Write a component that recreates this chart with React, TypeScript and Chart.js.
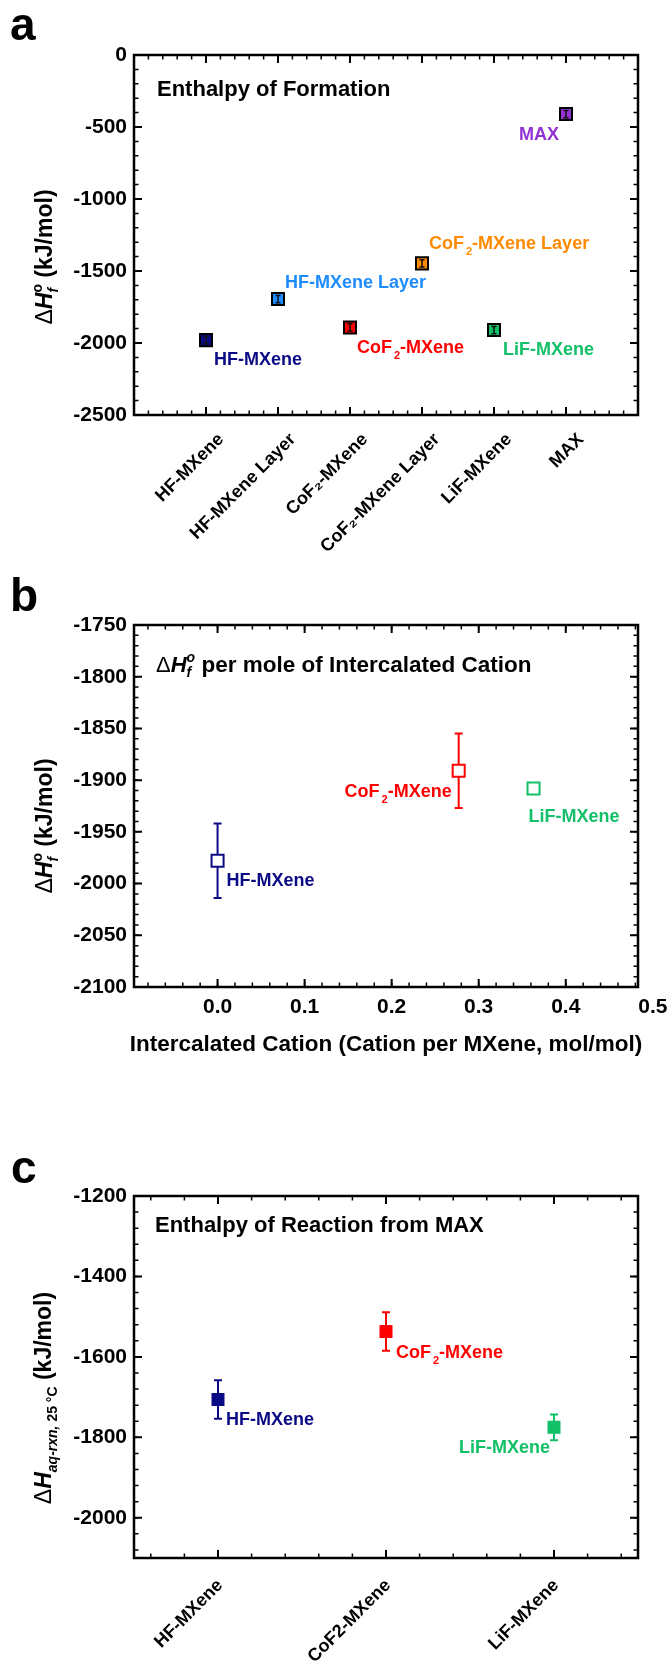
import React, { useEffect, useRef } from 'react';
import { Chart, registerables } from 'chart.js';

Chart.register(...registerables);

const FONT = "'Liberation Sans', Arial, Helvetica, sans-serif";
const PAGE_W = 671;
const PAGE_H = 1661;
const BOX_LEFT = 134;
const BOX_RIGHT = 638;

// ---------------- Panel a data ----------------
const A_CATEGORIES = ['HF-MXene', 'HF-MXene Layer', 'CoF₂-MXene', 'CoF₂-MXene Layer', 'LiF-MXene', 'MAX'];
const A_VALUES = [-1980, -1695, -1892, -1447, -1910, -410];
const A_ERRORS = [25, 25, 25, 25, 25, 25];
const A_Y_TICKS = [0, -500, -1000, -1500, -2000, -2500];

// ---------------- Panel b data ----------------
const B_NAMES = ['HF-MXene', 'CoF₂-MXene', 'LiF-MXene'];
const B_CATION = [0.0, 0.277, 0.363];
const B_VALUES = [-1978, -1891, -1908];
const B_ERRORS = [36, 36, 3];
const B_X_TICKS = [0.0, 0.1, 0.2, 0.3, 0.4, 0.5];
const B_Y_TICKS = [-1750, -1800, -1850, -1900, -1950, -2000, -2050, -2100];

// ---------------- Panel c data ----------------
const C_CATEGORIES = ['HF-MXene', 'CoF2-MXene', 'LiF-MXene'];
const C_NAMES = ['HF-MXene', 'CoF₂-MXene', 'LiF-MXene'];
const C_VALUES = [-1706, -1537, -1775];
const C_ERRORS = [48, 48, 32];
const C_Y_TICKS = [-1200, -1400, -1600, -1800, -2000];

// ---------------- styles ----------------
const NAVY = '#0A0A85';
const SKY = '#1E8CFF';
const RED = '#FF0000';
const ORANGE = '#FF8A00';
const GREEN = '#12C068';
const PURPLE = '#9232D2';
const A_COLORS = [NAVY, SKY, RED, ORANGE, GREEN, PURPLE];
const B_COLORS = [NAVY, RED, GREEN];
const C_COLORS = [NAVY, RED, GREEN];

const TICK_SIZE = 21;
const ANNOT_SIZE = 18;
const TITLE_SIZE = 22;
const YTITLE_SIZE = 23;
const LETTER_SIZE = 46;

type Align = 'left' | 'right' | 'center';
const A_LABEL_POS: [number, number, Align][] = [[8, 18, 'left'], [7, -18, 'left'], [7, 19, 'left'], [7, -21, 'left'], [9, 18, 'left'], [-7, 19, 'right']];
const B_LABEL_POS: [number, number, Align][] = [[9, 19, 'left'], [-7, 20, 'right'], [-5, 27, 'left']];
const C_LABEL_POS: [number, number, Align][] = [[8, 19, 'left'], [10, 20, 'left'], [-4, 19, 'right']];

type Seg = { t: string; font: string; dy?: number; dx?: number; hold?: boolean };

function drawRich(ctx: CanvasRenderingContext2D, segs: Seg[], x: number, y: number, align: Align, color: string) {
  const pos: number[] = [];
  let total = 0;
  let pending = 0;
  for (const s of segs) {
    ctx.font = s.font;
    const w = ctx.measureText(s.t).width + (s.dx || 0);
    pos.push(total + (s.dx || 0));
    if (s.hold) pending = Math.max(pending, w);
    else {
      total += Math.max(w, pending);
      pending = 0;
    }
  }
  const x0 = align === 'left' ? x : align === 'right' ? x - total : x - total / 2;
  ctx.fillStyle = color;
  ctx.textAlign = 'left';
  ctx.textBaseline = 'alphabetic';
  segs.forEach((s, i) => {
    ctx.font = s.font;
    ctx.fillText(s.t, x0 + pos[i], y + (s.dy || 0));
  });
}

function drawVertical(ctx: CanvasRenderingContext2D, segs: Seg[], cx: number, cy: number, size: number) {
  ctx.save();
  ctx.translate(cx, cy);
  ctx.rotate(-Math.PI / 2);
  drawRich(ctx, segs, 0, size * 0.36, 'center', '#000');
  ctx.restore();
}

function nameSegs(name: string, size: number): Seg[] {
  const i = name.indexOf('₂');
  const f = `bold ${size}px ${FONT}`;
  if (i < 0) return [{ t: name, font: f }];
  return [
    { t: name.slice(0, i), font: f },
    { t: '2', font: `bold ${Math.round(size * 0.6)}px ${FONT}`, dy: size * 0.32, dx: 2 },
    { t: name.slice(i + 1), font: f },
  ];
}

function steps(from: number, to: number, step: number): number[] {
  const out: number[] = [];
  const n = Math.round((to - from) / step);
  for (let k = 0; k <= n; k++) out.push(Math.round((from + k * step) * 1e6) / 1e6);
  return out;
}

function frameTicksPlugin(xMajor: number[], xMinor: number[], yMajor: number[], yMinor: number[]) {
  return {
    id: 'frameTicks',
    afterDatasetsDraw(chart: any) {
      const { ctx, chartArea: a } = chart;
      const xs = chart.scales.x;
      const ys = chart.scales.y;
      ctx.save();
      ctx.strokeStyle = '#000';
      const drawX = (vals: number[], len: number, lw: number) => {
        ctx.lineWidth = lw;
        ctx.beginPath();
        for (const v of vals) {
          if (v < xs.min - 1e-9 || v > xs.max + 1e-9) continue;
          const p = xs.getPixelForValue(v);
          ctx.moveTo(p, a.bottom);
          ctx.lineTo(p, a.bottom - len);
          ctx.moveTo(p, a.top);
          ctx.lineTo(p, a.top + len);
        }
        ctx.stroke();
      };
      const drawY = (vals: number[], len: number, lw: number) => {
        ctx.lineWidth = lw;
        ctx.beginPath();
        for (const v of vals) {
          if (v < ys.min - 1e-9 || v > ys.max + 1e-9) continue;
          const p = ys.getPixelForValue(v);
          ctx.moveTo(a.left, p);
          ctx.lineTo(a.left + len, p);
          ctx.moveTo(a.right, p);
          ctx.lineTo(a.right - len, p);
        }
        ctx.stroke();
      };
      drawX(xMinor, 4.5, 1.5);
      drawX(xMajor, 8, 2);
      drawY(yMinor, 4.5, 1.5);
      drawY(yMajor, 8, 2);
      ctx.lineWidth = 2.5;
      ctx.strokeRect(a.left, a.top, a.right - a.left, a.bottom - a.top);
      ctx.restore();
    },
  };
}

function errorBarPlugin(hook: string, xv: number[], yv: number[], errs: number[], colors: string[], lw: number, cap: number) {
  return {
    id: 'errorBars',
    [hook](chart: any) {
      const { ctx } = chart;
      const xs = chart.scales.x;
      const ys = chart.scales.y;
      ctx.save();
      ctx.lineWidth = lw;
      xv.forEach((x, i) => {
        const px = xs.getPixelForValue(x);
        const pTop = ys.getPixelForValue(yv[i] + errs[i]);
        const pBot = ys.getPixelForValue(yv[i] - errs[i]);
        ctx.strokeStyle = colors[i];
        ctx.beginPath();
        ctx.moveTo(px, pTop);
        ctx.lineTo(px, pBot);
        ctx.moveTo(px - cap / 2, pTop);
        ctx.lineTo(px + cap / 2, pTop);
        ctx.moveTo(px - cap / 2, pBot);
        ctx.lineTo(px + cap / 2, pBot);
        ctx.stroke();
      });
      ctx.restore();
    },
  };
}

function labelsPlugin(xv: number[], yv: number[], names: string[], colors: string[], posList: [number, number, Align][], size: number, extra: (ctx: CanvasRenderingContext2D) => void) {
  return {
    id: 'labelsAndTexts',
    afterDraw(chart: any) {
      const { ctx } = chart;
      const xs = chart.scales.x;
      const ys = chart.scales.y;
      ctx.save();
      xv.forEach((x, i) => {
        const px = xs.getPixelForValue(x);
        const py = ys.getPixelForValue(yv[i]);
        const [dx, dy, al] = posList[i];
        drawRich(ctx, nameSegs(names[i], size), px + dx, py + dy + size * 0.36, al, colors[i]);
      });
      extra(ctx);
      ctx.restore();
    },
  };
}

interface Base {
  boxTop: number;
  boxBottom: number;
  xMin: number;
  xMax: number;
  yMin: number;
  yMax: number;
  xTicks: number[];
  xLabel: (v: number) => string;
  xFont: number;
  xRot: number;
  xPad: number;
  xOffset: number;
  yTicks: number[];
  datasets: any[];
  plugins: any[];
}

function baseConfig(o: Base): any {
  return {
    type: 'scatter',
    data: { datasets: o.datasets },
    options: {
      animation: false,
      responsive: false,
      maintainAspectRatio: false,
      devicePixelRatio: 1,
      events: [],
      layout: { padding: { left: 0, right: PAGE_W - BOX_RIGHT, top: o.boxTop, bottom: 0 } },
      plugins: { legend: { display: false }, tooltip: { enabled: false } },
      scales: {
        x: {
          type: 'linear',
          position: 'bottom',
          min: o.xMin,
          max: o.xMax,
          grid: { display: false, drawTicks: false },
          border: { display: false },
          afterBuildTicks: (s: any) => {
            s.ticks = o.xTicks.map((v) => ({ value: v }));
          },
          afterFit: (s: any) => {
            s.height = PAGE_H - o.boxBottom;
            s.paddingLeft = 0;
            s.paddingRight = 0;
          },
          ticks: {
            autoSkip: false,
            minRotation: o.xRot,
            maxRotation: o.xRot,
            padding: o.xPad,
            labelOffset: o.xOffset,
            color: '#000',
            font: { family: FONT, size: o.xFont, weight: 'bold' },
            callback: (v: any) => o.xLabel(Number(v)),
          },
        },
        y: {
          type: 'linear',
          position: 'left',
          min: o.yMin,
          max: o.yMax,
          grid: { display: false, drawTicks: false },
          border: { display: false },
          afterBuildTicks: (s: any) => {
            s.ticks = o.yTicks.map((v) => ({ value: v }));
          },
          afterFit: (s: any) => {
            s.width = BOX_LEFT;
            s.paddingTop = 0;
            s.paddingBottom = 0;
          },
          ticks: {
            autoSkip: false,
            padding: 7,
            color: '#000',
            font: { family: FONT, size: TICK_SIZE, weight: 'bold' },
            callback: (v: any) => String(v),
          },
        },
      },
    },
    plugins: o.plugins,
  };
}

const big = (s: number) => `bold ${s}px ${FONT}`;

function yTitleF(size: number): Seg[] {
  const sub = Math.round(size * 0.62);
  return [
    { t: 'Δ', font: `${size}px ${FONT}` },
    { t: 'H', font: `italic bold ${size}px ${FONT}` },
    { t: 'f', font: `italic bold ${sub}px ${FONT}`, dy: size * 0.25, hold: true },
    { t: 'o', font: `bold ${sub}px ${FONT}`, dy: -size * 0.45 },
  ];
}

// ---------------- panel a ----------------
function configA(): any {
  const xv = A_VALUES.map((_, i) => i + 1);
  return baseConfig({
    boxTop: 55,
    boxBottom: 415,
    xMin: 0,
    xMax: 7,
    yMin: -2500,
    yMax: 0,
    xTicks: xv,
    xLabel: (v) => A_CATEGORIES[Math.round(v) - 1] || '',
    xFont: 18,
    xRot: 45,
    xPad: 14,
    xOffset: 15,
    yTicks: A_Y_TICKS,
    datasets: [
      {
        data: xv.map((x, i) => ({ x, y: A_VALUES[i] })),
        pointStyle: 'rect',
        pointRadius: 8.5,
        pointBorderWidth: 2,
        pointBorderColor: '#000',
        pointBackgroundColor: A_COLORS,
      },
    ],
    plugins: [
      errorBarPlugin('afterDatasetsDraw', xv, A_VALUES, A_ERRORS, A_COLORS.map(() => '#111'), 1.5, 5),
      frameTicksPlugin(xv, steps(0, 7, 0.2), A_Y_TICKS, steps(-2500, 0, 100)),
      labelsPlugin(xv, A_VALUES, A_CATEGORIES, A_COLORS, A_LABEL_POS, ANNOT_SIZE, (ctx) => {
        drawRich(ctx, [{ t: 'a', font: big(LETTER_SIZE) }], 10, 40, 'left', '#000');
        drawRich(ctx, [{ t: 'Enthalpy of Formation', font: big(TITLE_SIZE) }], 157, 96, 'left', '#000');
        drawVertical(ctx, [...yTitleF(YTITLE_SIZE), { t: ' (kJ/mol)', font: big(YTITLE_SIZE) }], 44, 257, YTITLE_SIZE);
      }),
    ],
  });
}

// ---------------- panel b ----------------
function configB(): any {
  return baseConfig({
    boxTop: 625,
    boxBottom: 987,
    xMin: -0.096,
    xMax: 0.483,
    yMin: -2100,
    yMax: -1750,
    xTicks: B_X_TICKS,
    xLabel: (v) => v.toFixed(1),
    xFont: TICK_SIZE,
    xRot: 0,
    xPad: 8,
    xOffset: 0,
    yTicks: B_Y_TICKS,
    datasets: [
      {
        data: B_CATION.map((x, i) => ({ x, y: B_VALUES[i] })),
        pointStyle: 'rect',
        pointRadius: 8.5,
        pointBorderWidth: 2,
        pointBorderColor: B_COLORS,
        pointBackgroundColor: '#FFFFFF',
      },
    ],
    plugins: [
      errorBarPlugin('beforeDatasetsDraw', B_CATION, B_VALUES, B_ERRORS, B_COLORS, 2, 8),
      frameTicksPlugin(B_X_TICKS, steps(-0.08, 0.48, 0.02), B_Y_TICKS, steps(-2100, -1750, 10)),
      labelsPlugin(B_CATION, B_VALUES, B_NAMES, B_COLORS, B_LABEL_POS, ANNOT_SIZE, (ctx) => {
        drawRich(ctx, [{ t: 'b', font: big(LETTER_SIZE) }], 10, 611, 'left', '#000');
        drawRich(
          ctx,
          [
            { t: 'Δ', font: `${TITLE_SIZE}px ${FONT}` },
            { t: 'H', font: `italic bold ${TITLE_SIZE}px ${FONT}` },
            { t: 'f', font: `italic bold 14px ${FONT}`, dy: 5, hold: true },
            { t: 'o', font: `italic bold 14px ${FONT}`, dy: -10 },
            { t: ' per mole of Intercalated Cation', font: big(22.5) },
          ],
          156,
          672,
          'left',
          '#000'
        );
        drawVertical(ctx, [...yTitleF(YTITLE_SIZE), { t: ' (kJ/mol)', font: big(YTITLE_SIZE) }], 44, 826, YTITLE_SIZE);
        drawRich(ctx, [{ t: 'Intercalated Cation (Cation per MXene, mol/mol)', font: big(22.5) }], 386, 1051, 'center', '#000');
      }),
    ],
  });
}

// ---------------- panel c ----------------
function configC(): any {
  const xv = C_VALUES.map((_, i) => i + 1);
  return baseConfig({
    boxTop: 1196,
    boxBottom: 1558,
    xMin: 0.5,
    xMax: 3.5,
    yMin: -2100,
    yMax: -1200,
    xTicks: xv,
    xLabel: (v) => C_CATEGORIES[Math.round(v) - 1] || '',
    xFont: 18,
    xRot: 45,
    xPad: 17,
    xOffset: 2,
    yTicks: C_Y_TICKS,
    datasets: [
      {
        data: xv.map((x, i) => ({ x, y: C_VALUES[i] })),
        pointStyle: 'rect',
        pointRadius: 9.2,
        pointBorderWidth: 0,
        pointBorderColor: C_COLORS,
        pointBackgroundColor: C_COLORS,
      },
    ],
    plugins: [
      errorBarPlugin('beforeDatasetsDraw', xv, C_VALUES, C_ERRORS, C_COLORS, 2, 8),
      frameTicksPlugin(xv, steps(0.6, 3.4, 0.2), C_Y_TICKS, steps(-2080, -1200, 40)),
      labelsPlugin(xv, C_VALUES, C_NAMES, C_COLORS, C_LABEL_POS, ANNOT_SIZE, (ctx) => {
        drawRich(ctx, [{ t: 'c', font: big(LETTER_SIZE) }], 11, 1183, 'left', '#000');
        drawRich(ctx, [{ t: 'Enthalpy of Reaction from MAX', font: big(TITLE_SIZE) }], 155, 1232, 'left', '#000');
        drawVertical(
          ctx,
          [
            { t: 'Δ', font: `${YTITLE_SIZE}px ${FONT}` },
            { t: 'H', font: `italic bold ${YTITLE_SIZE}px ${FONT}` },
            { t: 'aq-rxn, ', font: `italic bold 14px ${FONT}`, dy: 6 },
            { t: '25 °C', font: `bold 14px ${FONT}`, dy: 6 },
            { t: ' (kJ/mol)', font: big(YTITLE_SIZE) },
          ],
          43,
          1398,
          YTITLE_SIZE
        );
      }),
    ],
  });
}

function PanelCanvas({ build }: { build: () => any }) {
  const ref = useRef<HTMLCanvasElement | null>(null);
  useEffect(() => {
    const el = ref.current;
    if (!el) return;
    const chart = new Chart(el, build());
    return () => chart.destroy();
  }, []);
  return (
    <canvas
      ref={ref}
      width={PAGE_W}
      height={PAGE_H}
      style={{ position: 'absolute', left: 0, top: 0, width: PAGE_W, height: PAGE_H, display: 'block' }}
    />
  );
}

export default function App() {
  return (
    <div style={{ position: 'absolute', left: 0, top: 0, width: PAGE_W, height: PAGE_H, background: '#fff' }}>
      <PanelCanvas build={configA} />
      <PanelCanvas build={configB} />
      <PanelCanvas build={configC} />
    </div>
  );
}
